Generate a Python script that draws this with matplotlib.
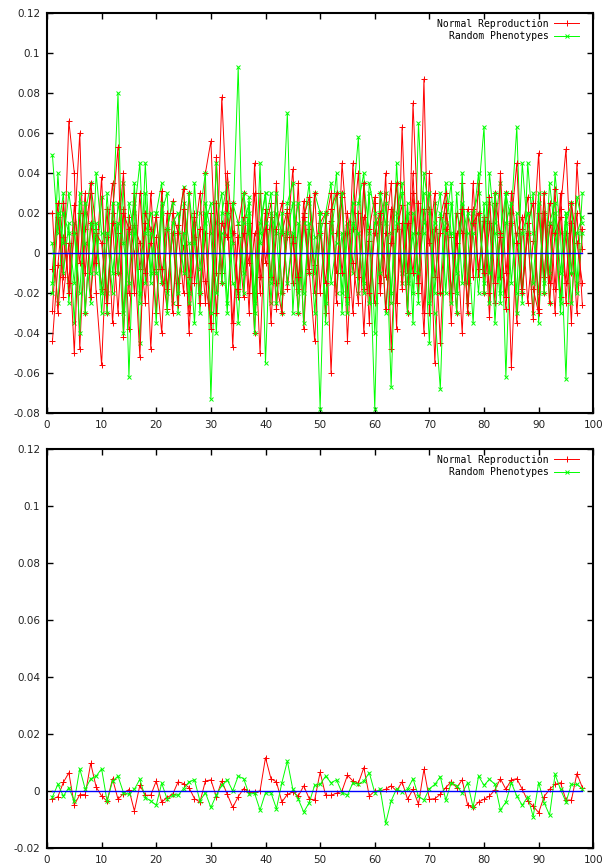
import numpy as np
import matplotlib
matplotlib.use("Agg")
import matplotlib.pyplot as plt
from matplotlib.ticker import FuncFormatter, MultipleLocator

# generations 1..98
gens = np.arange(1, 99)

# top panel: several runs per setting (values in units of 0.001)
normal_runs = [
    [-29, 18, -12, 66, 40, -48, 12, 30, -20, -56,
     8, 35, -10, 22, -38, 14, 5, -25, 30, -8,
     -40, 12, 26, -15, 4, -30, 18, -20, 40, 56,
     -10, 78, 20, -35, 8, -22, 15, -40, 30, -5,
     18, -28, 10, 22, -15, 35, -38, 12, -6, 20,
     -30, 16, -10, 28, -44, 12, 40, -18, 6, -25,
     30, -12, 22, -38, 63, -10, 30, -20, 87, -30,
     12, -45, 20, 8, -30, 35, -15, 22, -8, 16,
     -32, 25, -12, 30, -57, 10, 18, -25, 6, 50,
     -20, 14, -30, 22, 52, -10, 20, -26],
    [-44, -6, 25, -20, 10, 60, -30, 15, -5, 38,
     -30, 20, 53, -42, 18, 0, -52, 20, 12, -30,
     31, -18, 10, -26, 22, -40, 8, 30, -14, -35,
     48, -10, 25, -47, 14, 30, -20, 10, -50, 22,
     -12, 35, -20, 8, 42, -18, 26, -8, -44, 15,
     20, -60, 10, 30, -22, 45, -12, 18, -35, 25,
     -15, 40, -48, 12, 24, -30, 75, 10, -40, 22,
     -55, 18, 30, -20, 10, -40, 22, -12, 35, -20,
     15, -25, 40, -10, 20, -35, 12, 28, -18, -30,
     20, -15, 32, -22, 10, -35, 45, 2],
    [-8, 25, -22, 5, -50, 20, -10, 35, 12, -18,
     22, -35, 10, 40, -20, 30, -8, 15, -48, 8,
     -15, 20, -30, 14, 32, -12, 20, -25, 10, -38,
     25, -15, 40, 10, -22, 18, -30, 45, -12, 20,
     -35, 12, 25, -18, 8, -30, 20, -10, 30, -20,
     15, 30, -25, 45, 10, -30, 20, -40, 12, 28,
     -20, 10, 35, -25, 15, -30, 40, -15, 22, 5,
     30, -20, 12, -35, 20, 10, -25, 35, -12, 18,
     -20, 30, 8, -28, 15, 45, -18, 10, -33, 20,
     -12, 25, -18, 30, -25, 15, -30, 12],
    [20, -30, 8, -15, 24, -5, 30, -22, 10, 5,
     -25, 15, -30, 20, 12, -20, 30, -10, 5, 18,
     -8, -28, 20, 10, -20, 30, -15, 12, -25, 20,
     -30, 15, 8, 25, -18, 10, -5, 30, -20, 12,
     25, -15, -30, 20, 5, -12, 18, 28, -20, 10,
     -15, 22, 30, -10, 20, -5, -25, 35, -20, 10,
     20, -28, 5, 35, -18, 15, -10, 25, -30, 40,
     -12, 10, 25, -20, 5, 22, -30, 15, 20, -10,
     28, -15, 10, -22, 30, 5, -20, 15, 25, -28,
     30, -25, 10, 18, -15, 25, 5, -15],
]

random_runs = [
    [49, 10, 30, -25, 15, -40, 20, 35, -10, 28,
     -20, 15, 80, -30, 10, 25, -45, 30, -15, 20,
     35, -20, 10, -30, 25, 5, -35, 20, 40, -73,
     15, 30, -25, 10, 93, -20, 28, -40, 15, 30,
     -25, 20, 10, 70, -30, 15, -35, 25, 8, -78,
     20, 35, -20, 10, -30, 25, 58, -15, 30, -40,
     15, 30, -25, 45, -10, 20, -35, 65, 10, -45,
     25, -20, 35, 10, -30, 40, -15, 20, 30, 63,
     -25, 15, 35, -62, 20, 63, -20, 10, 30, -35,
     20, -25, 40, 10, -63, 25, -15, 30],
    [-20, 40, -10, 15, -35, 30, 5, -25, 40, 10,
     -30, 25, -10, 35, -62, 20, 45, -15, 10, -35,
     20, 30, -25, 10, 33, -20, 15, -30, 25, 10,
     -40, 20, 35, -15, -20, 30, 10, -25, 45, -55,
     20, 10, -30, 25, 35, -20, 15, -10, 30, 20,
     -25, 15, 40, -30, 10, 25, -20, 35, 10, -78,
     30, 15, -67, 20, 35, -15, 10, -25, 40, 20,
     -30, -68, 15, 35, -20, 25, 10, -35, 20, -15,
     40, 10, -25, 30, 15, -20, 45, 10, -30, 25,
     -15, 35, 10, -25, 20, -10, 28, 15],
    [5, -25, 20, 10, -15, 25, -30, 15, 8, -20,
     30, -10, 15, -40, 25, 10, -20, 45, -10, 20,
     -15, 12, 25, -20, 10, -25, 35, -8, 20, -30,
     45, -15, 20, 5, -35, 15, 25, -20, 10, 30,
     -15, 30, -20, 10, 25, -30, 15, 35, -10, 20,
     -35, 10, 30, -20, 15, -10, 25, 40, -25, 15,
     20, -30, 10, 35, -15, 25, -20, 10, 30, -25,
     15, 30, -20, 25, -10, 20, -30, 15, 40, -20,
     25, -35, 10, 30, -15, 20, -25, 45, 10, -20,
     30, -10, 20, -30, 15, 25, -20, 10],
    [-15, 20, 5, 30, 10, -20, 25, -10, 15, -30,
     10, -20, 25, 5, -15, 35, -25, 10, 20, -10,
     25, -30, 15, 20, -10, 30, 5, -20, 15, 25,
     -20, 10, -30, 25, 15, -10, 20, -30, 5, 15,
     30, -25, 20, -15, 10, 25, -20, 15, -30, 10,
     20, -15, 5, 30, -25, 15, 10, -20, 35, 20,
     -10, 25, -20, 15, 30, -30, 20, -10, 15, 30,
     -20, 20, 10, -25, 30, -15, 20, 10, -20, 25,
     -10, 30, -20, 15, 25, -30, 10, 20, -15, 30,
     -20, 15, 25, -10, 20, -25, 10, 18],
]

# bottom panel: averaged curves (values in units of 0.0001)
normal_avg = [
    -29, -20, 30, 64, -49, -13, -13, 97, 14, -18,
    -36, 43, -29, -9, 5, -70, 20, -15, -15, 35,
    -39, -23, -12, 32, 26, 12, -27, -39, 35, 39,
    -20, 35, -12, -58, -20, 8, -4, -4, 0, 117,
    43, 32, -39, -12, -4, -18, 18, -27, -32, 66,
    -15, -15, -8, 0, 55, 35, 27, 82, -18, 0,
    0, 6, 18, 0, 32, -29, 6, -47, 76, -29,
    -27, -12, 12, 32, 12, 39, -50, -58, -39, -29,
    -18, 4, 43, 6, 39, 43, 6, -35, -53, -76,
    -20, 6, 23, 29, -32, -32, 61, 12]
random_avg = [
    -20, 23, -18, 12, -36, 78, 6, 43, 52, 78,
    -36, 35, 52, -6, -12, 6, 41, -23, -35, -50,
    27, -29, -15, -15, 8, 32, 39, -35, -6, -58,
    -15, 20, 39, 0, 52, 43, -12, -8, -67, -6,
    -6, -62, 29, 105, 6, -29, -74, -41, 20, 23,
    52, 29, 39, -6, -15, 29, 23, 35, 64, -6,
    6, -113, -35, 8, -4, 6, 43, -18, -32, 8,
    23, 50, -32, 29, 18, -8, 29, -58, 52, 20,
    41, 23, -67, -39, 29, -18, -50, -20, -90, 29,
    -41, -85, 58, 6, -39, 23, 23, 8]

RED = "#ff0000"
GREEN = "#00ff00"
BLUE = "#0000ff"

fig = plt.figure(figsize=(6.07, 8.65), dpi=100)
ax_top = fig.add_axes([0.0774, 0.5225, 0.9, 0.4624])
ax_bot = fig.add_axes([0.0774, 0.0197, 0.9, 0.4613])


def style(ax, ymin, ymax):
    ax.set_xlim(0, 100)
    ax.set_ylim(ymin, ymax)
    ax.xaxis.set_major_locator(MultipleLocator(10))
    ax.yaxis.set_major_locator(MultipleLocator(0.02))
    ax.yaxis.set_major_formatter(FuncFormatter(lambda v, p: "%g" % round(v, 4)))
    ax.tick_params(direction="in", length=4, width=1, top=True, right=True,
                   labelsize=7.5, labelcolor="#222222", pad=5)
    for s in ax.spines.values():
        s.set_linewidth(1.5)
    ax.legend(loc="upper right", frameon=False, markerfirst=False,
              prop={"family": "DejaVu Sans Mono", "size": 7},
              handlelength=2.6, handletextpad=0.5,
              labelspacing=0.25, borderaxespad=0.2, bbox_to_anchor=(0.985, 1.0))


# top panel, runs interleaved so neither colour sits fully on top
for i in range(len(normal_runs)):
    ax_top.plot(gens, np.array(normal_runs[i]) / 1000, color=RED, lw=0.7,
                marker="+", ms=4.5, mew=0.7,
                label="Normal Reproduction" if i == 0 else None)
    ax_top.plot(gens, np.array(random_runs[i]) / 1000, color=GREEN, lw=0.7,
                marker="x", ms=3.5, mew=0.7,
                label="Random Phenotypes" if i == 0 else None)
ax_top.plot(gens, np.zeros(len(gens)), color=BLUE, lw=1, zorder=5)
style(ax_top, -0.08, 0.12)

# bottom panel
ax_bot.plot(gens, np.array(normal_avg) / 10000, color=RED, lw=0.7, marker="+",
            ms=4.5, mew=0.7, label="Normal Reproduction")
ax_bot.plot(gens, np.array(random_avg) / 10000, color=GREEN, lw=0.7, marker="x",
            ms=3.5, mew=0.7, label="Random Phenotypes")
ax_bot.plot(gens, np.zeros(len(gens)), color=BLUE, lw=1, zorder=5)
style(ax_bot, -0.02, 0.12)

fig.savefig("out.png", dpi=100)
